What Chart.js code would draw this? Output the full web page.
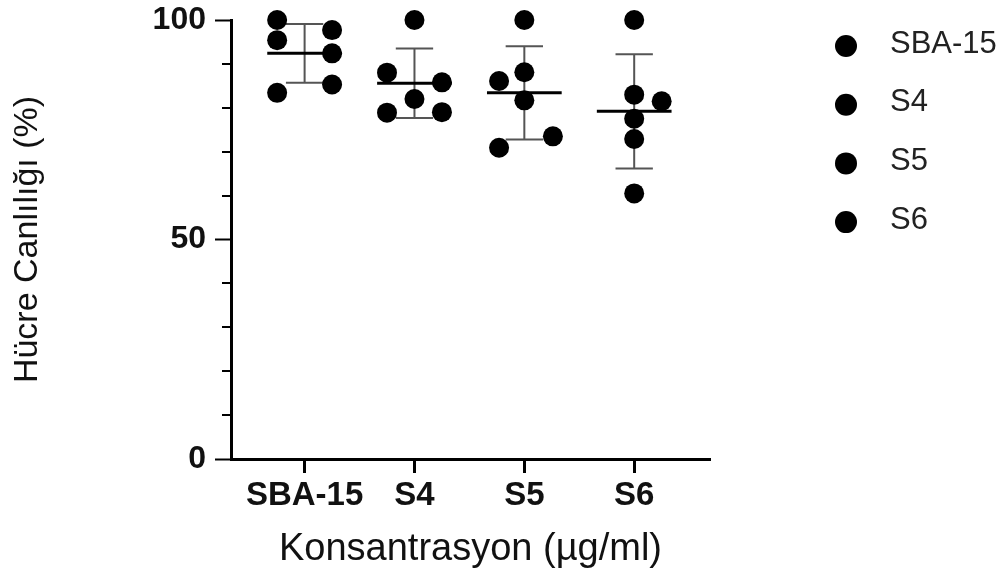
<!DOCTYPE html>
<html>
<head>
<meta charset="utf-8">
<script src="https://cdn.jsdelivr.net/npm/chart.js@4.4.1/dist/chart.umd.min.js"></script>
<style>
    html, body { margin: 0; padding: 0; background: #fff; }
    #wrap { width: 1005px; height: 576px; position: relative; }
</style>
</head>
<body>
<div id="wrap"><canvas id="viabilityChart"></canvas></div>
<script>
// --- Values ---
const groups = ['SBA-15', 'S4', 'S5', 'S6'];

const sba15Values = [100, 95.4, 83.4, 97.7, 92.4, 85.3];
const s4Values = [100, 88.0, 85.8, 82.0, 78.9, 79.0];
const s5Values = [100, 88.1, 86.1, 81.7, 73.5, 70.9];
const s6Values = [100, 83.0, 81.5, 77.5, 72.9, 60.5];

// horizontal spread of the dots inside each column (x units)
const sba15Jitter = [-0.25, -0.25, -0.25, 0.25, 0.25, 0.25];
const s4Jitter = [0, -0.25, 0.25, 0, -0.25, 0.25];
const s5Jitter = [0, 0, -0.23, 0, 0.26, -0.23];
const s6Jitter = [0, 0, 0.25, 0, 0, 0];

// mean +/- SD bars as drawn in the figure
const groupMeans = [92.4, 85.6, 83.4, 79.2];
const groupSDs = [6.7, 7.9, 10.6, 13.0];

const yTickValues = [0, 50, 100];
const yMinorTicks = [10, 20, 30, 40, 60, 70, 80, 90];

const FONT = "'Liberation Sans', Arial, sans-serif";

const groupValues = [sba15Values, s4Values, s5Values, s6Values];
const groupJitter = [sba15Jitter, s4Jitter, s5Jitter, s6Jitter];

const datasets = groups.map((name, i) => ({
    label: name,
    data: groupValues[i].map((v, k) => ({ x: i + 1 + groupJitter[i][k], y: v })),
    backgroundColor: '#000',
    borderWidth: 0,
    pointRadius: 10,
    pointHoverRadius: 10,
    clip: false
}));

// --- Mean line + SD whiskers, drawn under the dots ---
const meanSdPlugin = {
    id: 'meanSd',
    beforeDatasetsDraw(chart) {
        const { ctx, scales: { x, y } } = chart;
        ctx.save();
        groups.forEach((g, i) => {
            const cx = x.getPixelForValue(i + 1);
            const top = y.getPixelForValue(groupMeans[i] + groupSDs[i]);
            const bottom = y.getPixelForValue(groupMeans[i] - groupSDs[i]);
            const capL = x.getPixelForValue(i + 1 - 0.17);
            const capR = x.getPixelForValue(i + 1 + 0.17);

            ctx.strokeStyle = '#555';
            ctx.lineWidth = 2;
            ctx.beginPath();
            ctx.moveTo(cx, top); ctx.lineTo(cx, bottom);
            ctx.moveTo(capL, top); ctx.lineTo(capR, top);
            ctx.moveTo(capL, bottom); ctx.lineTo(capR, bottom);
            ctx.stroke();

            const my = y.getPixelForValue(groupMeans[i]);
            ctx.strokeStyle = '#000';
            ctx.lineWidth = 3;
            ctx.beginPath();
            ctx.moveTo(x.getPixelForValue(i + 1 - 0.34), my);
            ctx.lineTo(x.getPixelForValue(i + 1 + 0.34), my);
            ctx.stroke();
        });
        ctx.restore();
    }
};

// --- Short minor ticks on the y axis ---
const minorTickPlugin = {
    id: 'minorTicks',
    afterDraw(chart) {
        const { ctx, scales: { y } } = chart;
        ctx.save();
        ctx.strokeStyle = '#000';
        ctx.lineWidth = 2;
        yMinorTicks.forEach(v => {
            const py = Math.round(y.getPixelForValue(v));
            ctx.beginPath();
            ctx.moveTo(y.right - 9, py);
            ctx.lineTo(y.right, py);
            ctx.stroke();
        });
        ctx.restore();
    }
};

// --- Legend on the right (dot + name) ---
const sideLegendPlugin = {
    id: 'sideLegend',
    afterDraw(chart) {
        const ctx = chart.ctx;
        ctx.save();
        ctx.font = `31px ${FONT}`;
        ctx.textBaseline = 'middle';
        ctx.textAlign = 'left';
        chart.data.datasets.forEach((ds, i) => {
            const cy = 46 + i * 58.7;
            ctx.fillStyle = ds.backgroundColor;
            ctx.beginPath();
            ctx.arc(846, cy, 11, 0, Math.PI * 2);
            ctx.fill();
            ctx.fillStyle = '#222';
            ctx.fillText(ds.label, 890, cy - 2);
        });
        ctx.restore();
    }
};

new Chart(document.getElementById('viabilityChart'), {
    type: 'scatter',
    data: { datasets: datasets },
    plugins: [meanSdPlugin, minorTickPlugin, sideLegendPlugin],
    options: {
        responsive: true,
        maintainAspectRatio: false,
        animation: false,
        events: [],
        layout: { padding: { top: 20, right: 295, bottom: 0, left: 0 } },
        plugins: {
            legend: { display: false },
            tooltip: { enabled: false }
        },
        scales: {
            x: {
                type: 'linear',
                position: 'bottom',
                min: 0.33,
                max: 4.69,
                afterBuildTicks: s => { s.ticks = groups.map((g, i) => ({ value: i + 1 })); },
                afterFit: s => { s.height = 117; s.paddingLeft = 0; s.paddingRight = 0; },
                grid: { drawOnChartArea: false, drawTicks: true, tickLength: 14, tickWidth: 3, tickColor: '#000' },
                border: { display: true, width: 3, color: '#000' },
                ticks: {
                    padding: 3,
                    color: '#111',
                    font: { family: FONT, size: 33, weight: 'bold' },
                    callback: v => groups[v - 1] || ''
                },
                title: {
                    display: true,
                    text: 'Konsantrasyon (µg/ml)',
                    color: '#111',
                    font: { family: FONT, size: 38 },
                    padding: { top: 0, bottom: 4 }
                }
            },
            y: {
                min: 0,
                max: 100,
                afterBuildTicks: s => { s.ticks = yTickValues.map(v => ({ value: v })); },
                afterFit: s => { s.width = 231; s.paddingTop = 0; s.paddingBottom = 0; },
                grid: { drawOnChartArea: false, drawTicks: true, tickLength: 16, tickWidth: 2, tickColor: '#000' },
                border: { display: true, width: 3, color: '#000' },
                ticks: {
                    padding: 9,
                    color: '#111',
                    font: { family: FONT, size: 32, weight: 'bold' }
                },
                title: {
                    display: true,
                    text: 'Hücre Canlılığı (%)',
                    color: '#111',
                    font: { family: FONT, size: 34 },
                    padding: { top: 7, bottom: 0 }
                }
            }
        }
    }
});
</script>
</body>
</html>
